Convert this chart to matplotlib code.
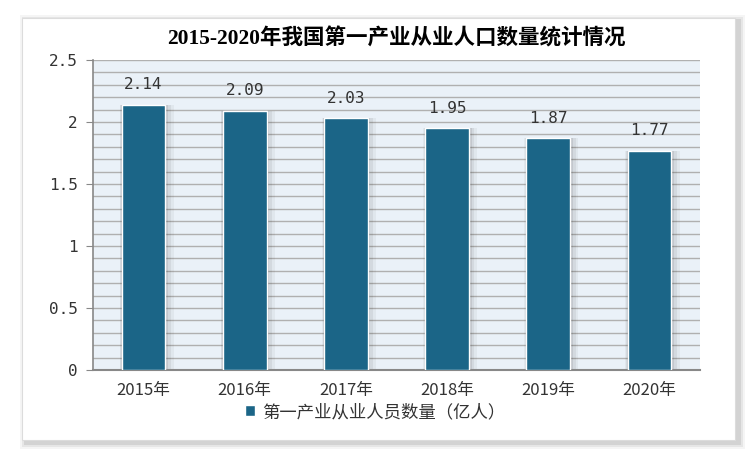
import matplotlib
matplotlib.use('Agg')
import matplotlib.pyplot as plt
from matplotlib.patches import Rectangle
from matplotlib.ticker import MultipleLocator
import numpy as np

plt.rcParams['font.family'] = ['Noto Sans CJK SC', 'DejaVu Sans']

# data
years = ['2015年', '2016年', '2017年', '2018年', '2019年', '2020年']
workers = [2.14, 2.09, 2.03, 1.95, 1.87, 1.77]
y_ticks = [0, 0.5, 1, 1.5, 2, 2.5]
y_tick_labels = ['0', '0.5', '1', '1.5', '2', '2.5']
title = '2015-2020年我国第一产业从业人口数量统计情况'
series_name = '第一产业从业人员数量（亿人）'

bar_color = '#1b6587'
bg_color = '#eaf1f8'

fig = plt.figure(figsize=(7.5, 4.57), dpi=100)

# white card with soft shadow
W, H = 750, 457
for i, a in enumerate([0.04, 0.06, 0.08]):
    d = 6 - 2 * i
    fig.patches.append(Rectangle(((22 - d + 4) / W, (H - 440 - d - 3) / H),
                                 (713 + 2 * d) / W, (422 + 2 * d) / H,
                                 transform=fig.transFigure, facecolor='black',
                                 alpha=a, edgecolor='none', zorder=0))
fig.patches.append(Rectangle((22 / W, (H - 440) / H), 713 / W, 422 / H,
                             transform=fig.transFigure, facecolor='white',
                             edgecolor='#dcdcdc', linewidth=0.8, zorder=1))

ax = fig.add_axes([93 / W, (H - 370) / H, 607 / W, 310 / H])
ax.set_facecolor(bg_color)
ax.set_zorder(2)

x = np.arange(len(years))
width = 0.43

# bar shadows
for k, a in enumerate([0.10, 0.07, 0.05]):
    ax.bar(x + 0.01 * (k + 1), workers, width=width + 0.035 * (k + 1),
           color='#303030', alpha=a, zorder=2, linewidth=0)
ax.bar(x, workers, width=width, color=bar_color, edgecolor='white',
       linewidth=1.0, zorder=3)

for xi, v in zip(x, workers):
    ax.text(xi, v + 0.1, f'{v:.2f}', ha='center', va='bottom',
            fontsize=11.5, color='#333333', family=['DejaVu Sans Mono'])

ax.set_xlim(-0.5, len(years) - 0.5)
ax.set_ylim(0, 2.5)
ax.set_yticks(y_ticks)
ax.set_yticklabels(y_tick_labels, fontsize=11.5, color='#333333',
                   family=['DejaVu Sans Mono'])
ax.yaxis.set_minor_locator(MultipleLocator(0.1))
ax.grid(which='both', axis='y', color='#b0b0b0', linewidth=1.0, zorder=1)
ax.set_axisbelow(True)
ax.set_xticks(x)
ax.set_xticklabels(years, fontsize=12, color='#333333')
ax.tick_params(axis='x', length=0, pad=9)
ax.tick_params(axis='y', which='major', length=5, color='#888888', pad=6)
ax.tick_params(axis='y', which='minor', length=0)

for s in ['top', 'right']:
    ax.spines[s].set_visible(False)
ax.spines['left'].set_color('#888888')
ax.spines['bottom'].set_color('#888888')
ax.spines['left'].set_linewidth(1.2)
ax.spines['bottom'].set_linewidth(1.5)

ax.set_title(title, fontsize=15.5, fontweight='bold', pad=11,
             family=['Liberation Serif', 'Noto Sans CJK SC'])

handle = Rectangle((0, 0), 1, 1, facecolor=bar_color, edgecolor='white')
leg = fig.legend([handle], [series_name], loc='center',
                 bbox_to_anchor=(0.5, (H - 412) / H), frameon=False,
                 fontsize=12.5, handlelength=0.6, handleheight=0.6,
                 handletextpad=0.4)
for t in leg.get_texts():
    t.set_color('#333333')

fig.savefig('out.png', dpi=100)
